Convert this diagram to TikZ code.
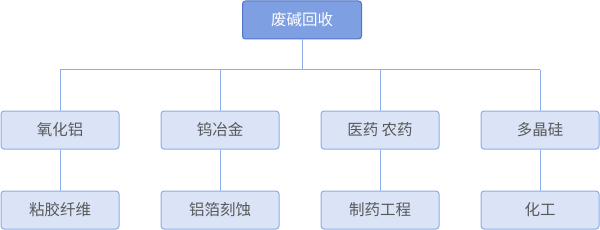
\documentclass[tikz,border=0pt]{standalone}
\usepackage{fontspec}
\setmainfont{Noto Sans CJK SC}
\usetikzlibrary{positioning}
\definecolor{topfill}{HTML}{7E9FE2}
\definecolor{topline}{HTML}{4F74C8}
\definecolor{boxfill}{HTML}{DAE4F6}
\definecolor{boxline}{HTML}{8DACE8}
\definecolor{txtgray}{HTML}{595959}
\tikzset{
  topbox/.style={draw=topline, fill=topfill, rounded corners=3pt, line width=1pt,
    minimum width=119pt, minimum height=38pt, text=white, font=\fontsize{15.5}{16}\selectfont},
  itembox/.style={draw=boxline, fill=boxfill, rounded corners=3pt, line width=1pt,
    minimum width=118pt, minimum height=38pt, text=txtgray, font=\fontsize{15.5}{16}\selectfont},
  link/.style={draw=boxline, line width=1pt}
}
\begin{document}
\begin{tikzpicture}[x=1pt,y=-1pt]
\useasboundingbox (0,0) rectangle (600,230);
\node[topbox] (root) at (302,20) {废碱回收};
\coordinate (bus) at (302,70);
\foreach \n/\x/\a/\b in {one/60/氧化铝/粘胶纤维,two/220/钨冶金/铝箔刻蚀,three/380/医药 农药/制药工程,four/540/多晶硅/化工} {
  \node[itembox] (\n) at (\x,130) {\a};
  \node[itembox] (\n low) at (\x,210) {\b};
  \draw[link] (\n) -- (\n low);
  \draw[link] (\n.north) -- (\n.north |- bus);
}
\draw[link] (one.north |- bus) -- (four.north |- bus);
\draw[link] (root) -- (bus);
\end{tikzpicture}
\end{document}
